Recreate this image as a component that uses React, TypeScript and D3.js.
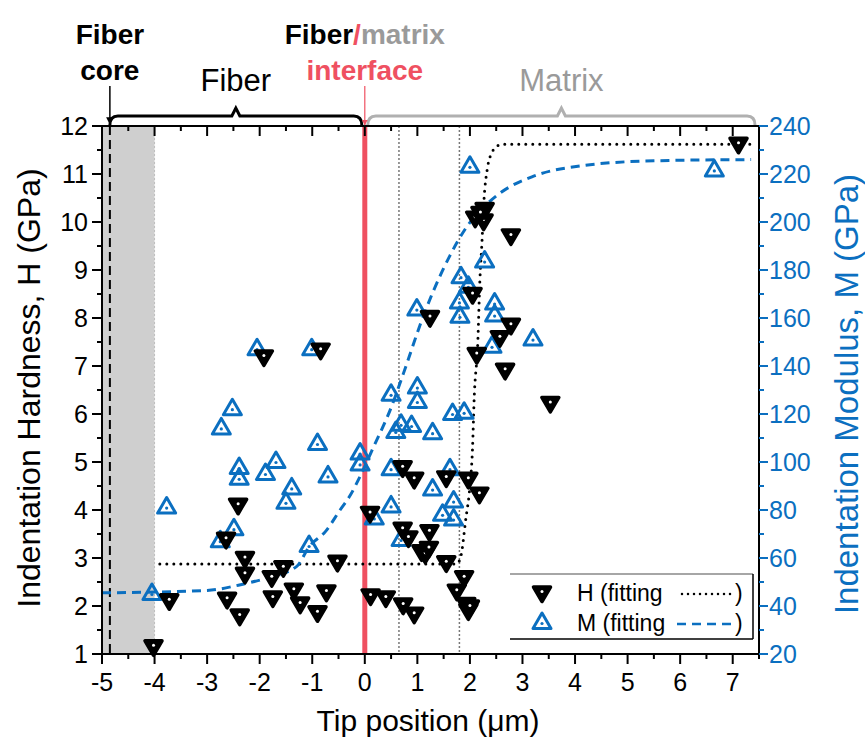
import React from "react";
import * as d3 from "d3";

// Indentation hardness H (GPa) vs tip position (µm)
const hardnessPoints: [number, number][] = [
  [-4.02, 1.17], [-3.72, 2.13], [-2.64, 3.41], [-2.41, 4.12], [-2.28, 3.01], [-2.28, 2.68],
  [-2.62, 2.16], [-2.38, 1.81], [-1.92, 7.21], [-0.84, 7.35], [-1.55, 2.82], [-1.77, 2.61],
  [-1.75, 2.19], [-1.35, 2.35], [-1.23, 2.06], [-0.73, 2.31], [-0.9, 1.88], [-0.52, 2.93],
  [0.1, 3.95], [0.11, 2.23], [0.4, 2.19], [0.73, 2.04], [0.94, 1.85], [0.72, 4.9],
  [0.94, 4.66], [0.72, 3.62], [0.83, 3.44], [1.23, 3.57], [1.08, 3.15], [1.15, 3.1],
  [1.22, 3.22], [1.24, 8.03], [1.55, 4.69], [1.55, 2.92], [1.97, 4.66], [2.18, 4.35],
  [1.89, 2.61], [1.75, 2.33], [1.93, 2.05], [1.97, 1.92], [2.0, 2.0], [2.13, 7.26],
  [2.05, 8.51], [2.1, 10.1], [2.26, 10.04], [2.28, 10.28], [2.2, 10.2], [2.78, 9.73],
  [2.78, 7.87], [2.57, 7.61], [2.67, 6.93], [3.53, 6.24], [7.11, 11.64],
];

// Indentation modulus M (GPa) vs tip position (µm)
const modulusPoints: [number, number][] = [
  [-4.05, 45], [-3.77, 81], [-2.05, 147], [-1.01, 147], [-2.52, 122], [-2.73, 114],
  [-0.9, 107.5], [-1.69, 100], [-2.39, 97.5], [-2.39, 93], [-1.89, 95], [-0.7, 94],
  [-1.39, 89], [-1.5, 83], [-2.49, 72], [-2.75, 67], [-1.06, 65],
  [0.99, 163.5], [1.8, 166.5], [1.81, 160.5], [2.47, 166], [2.47, 161], [2.42, 148],
  [0.5, 128], [1.0, 131], [1.0, 125], [0.69, 115.5], [0.59, 112.5], [0.89, 115],
  [1.29, 112], [1.67, 120], [1.89, 120.5], [-0.09, 103.5], [-0.09, 99], [0.5, 97],
  [1.62, 97], [1.29, 88.5], [0.5, 81.5], [0.18, 76.5], [1.69, 83.5], [1.48, 78],
  [1.69, 76], [0.69, 67.5], [2.0, 223], [2.28, 183.5], [1.83, 177], [1.97, 173],
  [3.2, 151], [6.65, 221.5],
];

// Fitted H profile (sigmoidal step at the interphase)
const hardnessFit: [number, number][] = [
  [-3.9, 2.875], [1.75, 2.875], [1.83, 3.05], [1.92, 3.8], [2.0, 4.5], [2.05, 5.3],
  [2.08, 6.3], [2.15, 7.5], [2.19, 8.8], [2.23, 9.6], [2.27, 10.5], [2.33, 11.1],
  [2.42, 11.45], [2.55, 11.6], [2.65, 11.62], [7.4, 11.62],
];

// Fitted M profile
const modulusFit: [number, number][] = [
  [-5, 45.5], [-3, 46.5], [-2.3, 49.2], [-1.93, 51.2], [-1.3, 56.4], [-1.05, 65],
  [-0.75, 71], [-0.47, 80], [-0.28, 86], [-0.09, 94], [0.16, 106], [0.48, 121.5],
  [0.8, 141], [1.05, 157], [1.3, 171], [1.62, 186], [1.94, 198], [2.3, 207],
  [2.57, 212], [3.2, 219], [4.15, 223.5], [5.5, 225.5], [7.35, 226],
];

const xTicks = [-5, -4, -3, -2, -1, 0, 1, 2, 3, 4, 5, 6, 7];
const hTicks = [1, 2, 3, 4, 5, 6, 7, 8, 9, 10, 11, 12];
const mTicks = [20, 40, 60, 80, 100, 120, 140, 160, 180, 200, 220, 240];

// Region boundaries (µm)
const coreEdge = -4.85;
const coreRegion: [number, number] = [-5, -4];
const interfaceX = 0;
const interphaseBounds = [0.65, 1.8];

const W = 865;
const H = 746;
const left = 102;
const right = 759;
const top = 126;
const bottom = 654;

const BLUE = "#0b6fc0";
const RED = "#ef5061";
const GREY = "#9a9a9a";
const FONT = "'Liberation Sans', Arial, sans-serif";

function DownTri({ cx, cy }: { cx: number; cy: number }) {
  const p = `M${cx - 8.5},${cy - 5}L${cx + 8.5},${cy - 5}L${cx},${cy + 9.5}Z`;
  return (
    <g>
      <path d={p} fill="#000" stroke="#000" strokeWidth={3.5} strokeLinejoin="round" />
      <circle cx={cx} cy={cy - 0.5} r={1.5} fill="#fff" />
    </g>
  );
}

function UpTri({ cx, cy }: { cx: number; cy: number }) {
  const p = `M${cx - 9},${cy + 5.5}L${cx + 9},${cy + 5.5}L${cx},${cy - 10}Z`;
  return (
    <g>
      <path d={p} fill="none" stroke={BLUE} strokeWidth={3} strokeLinejoin="round" />
      <circle cx={cx} cy={cy + 0.5} r={1.6} fill={BLUE} />
    </g>
  );
}

export default function App() {
  const x = d3.scaleLinear().domain([-5, 7.5]).range([left, right]);
  const yH = d3.scaleLinear().domain([1, 12]).range([bottom, top]);
  const yM = d3.scaleLinear().domain([20, 240]).range([bottom, top]);

  const hLine = d3
    .line<[number, number]>()
    .x((d) => x(d[0]))
    .y((d) => yH(d[1]))
    .curve(d3.curveMonotoneX);
  const mLine = d3
    .line<[number, number]>()
    .x((d) => x(d[0]))
    .y((d) => yM(d[1]))
    .curve(d3.curveMonotoneX);

  const xMinor = d3.range(-4.5, 7.51, 1);
  const hMinor = d3.range(1.5, 12, 1);
  const mMinor = d3.range(30, 240, 20);

  const xs = (v: number) => x(v);
  const fiberL = x(coreEdge);
  const fiberR = x(interfaceX) - 3;
  const matL = x(interfaceX) + 3;
  const matR = right - 4;
  const brY = 116;

  const brace = (a: number, b: number) => {
    const mid = (a + b) / 2;
    return `M${a},${brY + 9} Q${a},${brY} ${a + 8},${brY} L${mid - 4},${brY} L${mid},${brY - 8} L${mid + 4},${brY} L${b - 8},${brY} Q${b},${brY} ${b},${brY + 9}`;
  };

  return (
    <svg
      width={W}
      height={H}
      style={{ position: "absolute", left: 0, top: 0, background: "#fff" }}
      fontFamily={FONT}
    >
      <defs>
        <marker id="arrBlack" viewBox="0 0 10 10" refX="9" refY="5" markerWidth="5" markerHeight="6" orient="auto">
          <path d="M0,0L10,5L0,10Z" fill="#000" />
        </marker>
        <marker id="arrRed" viewBox="0 0 10 10" refX="9" refY="5" markerWidth="5" markerHeight="6" orient="auto">
          <path d="M0,0L10,5L0,10Z" fill={RED} />
        </marker>
        <clipPath id="plotClip">
          <rect x={left} y={top} width={right - left} height={bottom - top} />
        </clipPath>
      </defs>

      {/* fiber core band */}
      <rect x={xs(coreRegion[0])} y={top} width={xs(coreRegion[1]) - xs(coreRegion[0])} height={bottom - top} fill="#cfcfcf" />
      <line x1={xs(coreRegion[1])} x2={xs(coreRegion[1])} y1={top} y2={bottom} stroke="#bdbdbd" strokeWidth={1} strokeDasharray="2 2" />
      <line x1={fiberL} x2={fiberL} y1={top} y2={bottom} stroke="#000" strokeWidth={2} strokeDasharray="9 5" />

      {/* interphase bounds */}
      {interphaseBounds.map((v) => (
        <line key={v} x1={xs(v)} x2={xs(v)} y1={top} y2={bottom} stroke="#777" strokeWidth={1.5} strokeDasharray="2 2" />
      ))}

      {/* fiber/matrix interface */}
      <line x1={xs(interfaceX)} x2={xs(interfaceX)} y1={top} y2={bottom} stroke={RED} strokeWidth={5} />

      {/* fits */}
      <g clipPath="url(#plotClip)">
        <path d={hLine(hardnessFit) || ""} fill="none" stroke="#000" strokeWidth={3} strokeDasharray="0 7" strokeLinecap="round" />
        <path d={mLine(modulusFit) || ""} fill="none" stroke={BLUE} strokeWidth={3} strokeDasharray="9 6" />
      </g>

      {/* data */}
      {modulusPoints.map((d, i) => (
        <UpTri key={"m" + i} cx={x(d[0])} cy={yM(d[1])} />
      ))}
      {hardnessPoints.map((d, i) => (
        <DownTri key={"h" + i} cx={x(d[0])} cy={yH(d[1])} />
      ))}

      {/* frame */}
      <line x1={left} x2={right} y1={bottom} y2={bottom} stroke="#000" strokeWidth={2} />
      <line x1={left} x2={right} y1={top} y2={top} stroke="#000" strokeWidth={2} />
      <line x1={left} x2={left} y1={top} y2={bottom} stroke="#000" strokeWidth={2} />
      <line x1={right} x2={right} y1={top} y2={bottom} stroke="#000" strokeWidth={2} />

      {/* bottom axis */}
      {xTicks.map((t) => (
        <g key={"bx" + t}>
          <line x1={x(t)} x2={x(t)} y1={bottom} y2={bottom + 10} stroke="#000" strokeWidth={2} />
          <line x1={x(t)} x2={x(t)} y1={top} y2={top + 10} stroke="#000" strokeWidth={2} />
          <text x={x(t)} y={bottom + 37} textAnchor="middle" fontSize={25}>
            {t}
          </text>
        </g>
      ))}
      {xMinor.map((t) => (
        <g key={"bxm" + t}>
          <line x1={x(t)} x2={x(t)} y1={bottom} y2={bottom + 5} stroke="#000" strokeWidth={2} />
          <line x1={x(t)} x2={x(t)} y1={top} y2={top + 5} stroke="#000" strokeWidth={2} />
        </g>
      ))}

      {/* left axis */}
      {hTicks.map((t) => (
        <g key={"hy" + t}>
          <line x1={left - 10} x2={left} y1={yH(t)} y2={yH(t)} stroke="#000" strokeWidth={2} />
          <text x={left - 14} y={yH(t) + 9} textAnchor="end" fontSize={25}>
            {t}
          </text>
        </g>
      ))}
      {hMinor.map((t) => (
        <line key={"hym" + t} x1={left - 5} x2={left} y1={yH(t)} y2={yH(t)} stroke="#000" strokeWidth={2} />
      ))}

      {/* right axis */}
      {mTicks.map((t) => (
        <g key={"my" + t}>
          <line x1={right} x2={right + 9} y1={yM(t)} y2={yM(t)} stroke={BLUE} strokeWidth={2} />
          <text x={right + 10} y={yM(t) + 9} textAnchor="start" fontSize={25} fill={BLUE}>
            {t}
          </text>
        </g>
      ))}
      {mMinor.map((t) => (
        <line key={"mym" + t} x1={right} x2={right + 5} y1={yM(t)} y2={yM(t)} stroke={BLUE} strokeWidth={2} />
      ))}

      {/* axis titles */}
      <text x={428} y={731} textAnchor="middle" fontSize={30}>
        Tip position (μm)
      </text>
      <text transform={`translate(40,388) rotate(-90)`} textAnchor="middle" fontSize={32}>
        Indentation Hardness, H (GPa)
      </text>
      <text transform={`translate(858,394) rotate(-90)`} textAnchor="middle" fontSize={33} fill={BLUE}>
        Indentation Modulus, M (GPa)
      </text>

      {/* region braces */}
      <path d={brace(fiberL, fiberR)} fill="none" stroke="#000" strokeWidth={3} />
      <path d={brace(matL, matR)} fill="none" stroke="#b0b0b0" strokeWidth={3} />

      {/* region labels */}
      <text x={fiberL} y={44} textAnchor="middle" fontSize={28} fontWeight="bold">
        Fiber
      </text>
      <text x={fiberL} y={80} textAnchor="middle" fontSize={28} fontWeight="bold">
        core
      </text>
      <line x1={fiberL} x2={fiberL} y1={86} y2={124} stroke="#000" strokeWidth={1.5} markerEnd="url(#arrBlack)" />
      <text x={(fiberL + fiberR) / 2} y={91} textAnchor="middle" fontSize={31}>
        Fiber
      </text>
      <text x={xs(interfaceX)} y={44} textAnchor="middle" fontSize={28} fontWeight="bold">
        <tspan fill="#000">Fiber</tspan>
        <tspan fill={RED}>/</tspan>
        <tspan fill={GREY}>matrix</tspan>
      </text>
      <text x={xs(interfaceX)} y={80} textAnchor="middle" fontSize={28} fontWeight="bold" fill={RED}>
        interface
      </text>
      <line x1={xs(interfaceX)} x2={xs(interfaceX)} y1={86} y2={125} stroke={RED} strokeWidth={1.2} markerEnd="url(#arrRed)" />
      <text x={(matL + matR) / 2} y={91} textAnchor="middle" fontSize={31} fill={GREY}>
        Matrix
      </text>

      {/* legend */}
      <g>
        <line x1={510} x2={753} y1={574} y2={574} stroke="#888" strokeWidth={1.5} />
        <line x1={510} x2={753} y1={639} y2={639} stroke="#000" strokeWidth={1.5} />
        <line x1={753} x2={753} y1={574} y2={639} stroke="#000" strokeWidth={1.5} />
        <DownTri cx={542} cy={592} />
        <text x={577} y={601} fontSize={23}>H (fitting</text>
        <line x1={682} x2={732} y1={594} y2={594} stroke="#000" strokeWidth={2.5} strokeDasharray="0 6" strokeLinecap="round" />
        <text x={735} y={601} fontSize={23}>)</text>
        <UpTri cx={542} cy={623} />
        <text x={577} y={631} fontSize={23}>M (fitting</text>
        <line x1={677} x2={733} y1={624} y2={624} stroke={BLUE} strokeWidth={2.5} strokeDasharray="9 6" />
        <text x={735} y={631} fontSize={23}>)</text>
      </g>
    </svg>
  );
}
